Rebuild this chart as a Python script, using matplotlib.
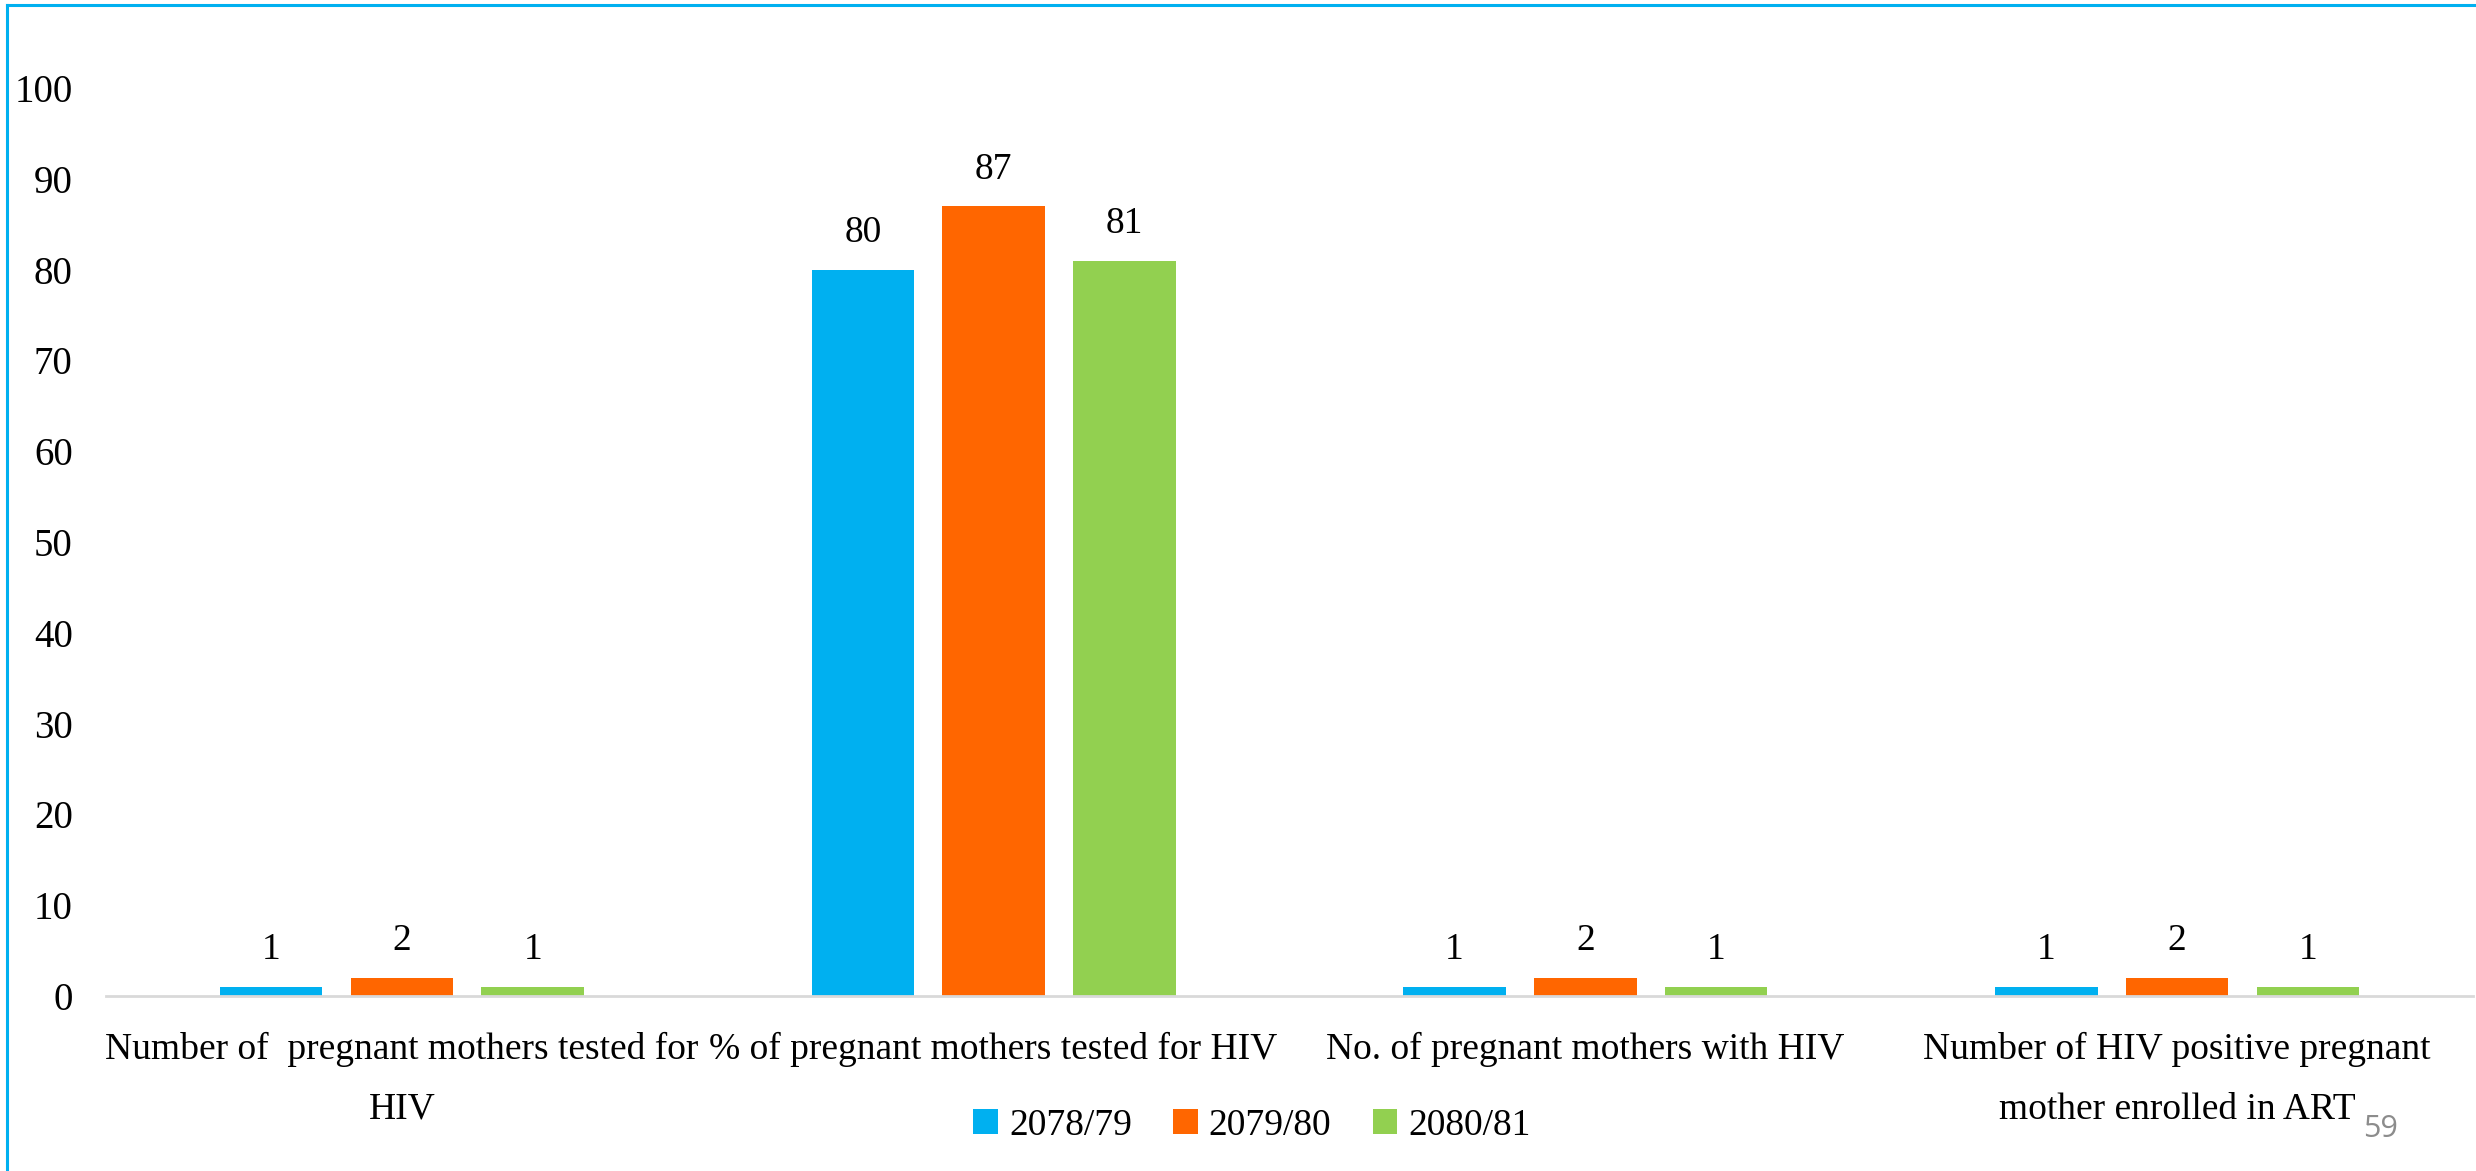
import matplotlib.pyplot as plt
import numpy as np
from matplotlib.lines import Line2D

# PMTCT indicators by fiscal year
categories = [
    "Number of  pregnant mothers tested for\nHIV",
    "% of pregnant mothers tested for HIV",
    "No. of pregnant mothers with HIV",
    "Number of HIV positive pregnant\nmother enrolled in ART",
]
years = ["2078/79", "2079/80", "2080/81"]
fy_2078_79 = [1, 80, 1, 1]
fy_2079_80 = [2, 87, 2, 2]
fy_2080_81 = [1, 81, 1, 1]
colors = ["#00B0F0", "#FF6600", "#92D050"]

plt.rcParams["font.family"] = ["Liberation Serif", "DejaVu Serif"]

fig = plt.figure(figsize=(24.76, 11.71), dpi=100)
ax = fig.add_axes([0.0428, 0.1495, 0.956, 0.7753])

x = np.arange(len(categories))
width = 0.173
step = 0.221
for i, (vals, col, lab) in enumerate(zip([fy_2078_79, fy_2079_80, fy_2080_81], colors, years)):
    bars = ax.bar(x + (i - 1) * step, vals, width, color=col, label=lab)
    for b, v in zip(bars, vals):
        ax.annotate(f"{v:.0f}", (b.get_x() + b.get_width() / 2, v),
                    xytext=(0, 14), textcoords="offset points",
                    ha="center", va="bottom", fontsize=27)

ax.set_xlim(-0.5, len(categories) - 0.5)
ax.set_ylim(0, 100)
ax.set_yticks(range(0, 101, 10))
ax.tick_params(axis="y", length=0, labelsize=28, pad=24)
ax.tick_params(axis="x", length=0, labelsize=27, pad=26)
ax.set_xticks(x)
ax.set_xticklabels(categories, linespacing=1.95)
for s in ["top", "right", "left"]:
    ax.spines[s].set_visible(False)
ax.spines["bottom"].set_color("#d9d9d9")
ax.spines["bottom"].set_linewidth(2)

leg = fig.legend(loc="center", bbox_to_anchor=(0.5057, 0.039), ncol=3, frameon=False,
                 fontsize=27, handlelength=0.65, handleheight=0.65,
                 handletextpad=0.3, columnspacing=1.1)

# slide frame and page number
fig.add_artist(Line2D([0.0028, 0.0028], [0, 0.996], color="#00B0F0", lw=2.2))
fig.add_artist(Line2D([0.0028, 1.0], [0.996, 0.996], color="#00B0F0", lw=2.2))
fig.text(0.9615, 0.036, "59", fontsize=22, color="#8c8c8c",
         family=["Open Sans", "DejaVu Sans"], ha="center", va="center")

fig.savefig("out.png", dpi=100)
